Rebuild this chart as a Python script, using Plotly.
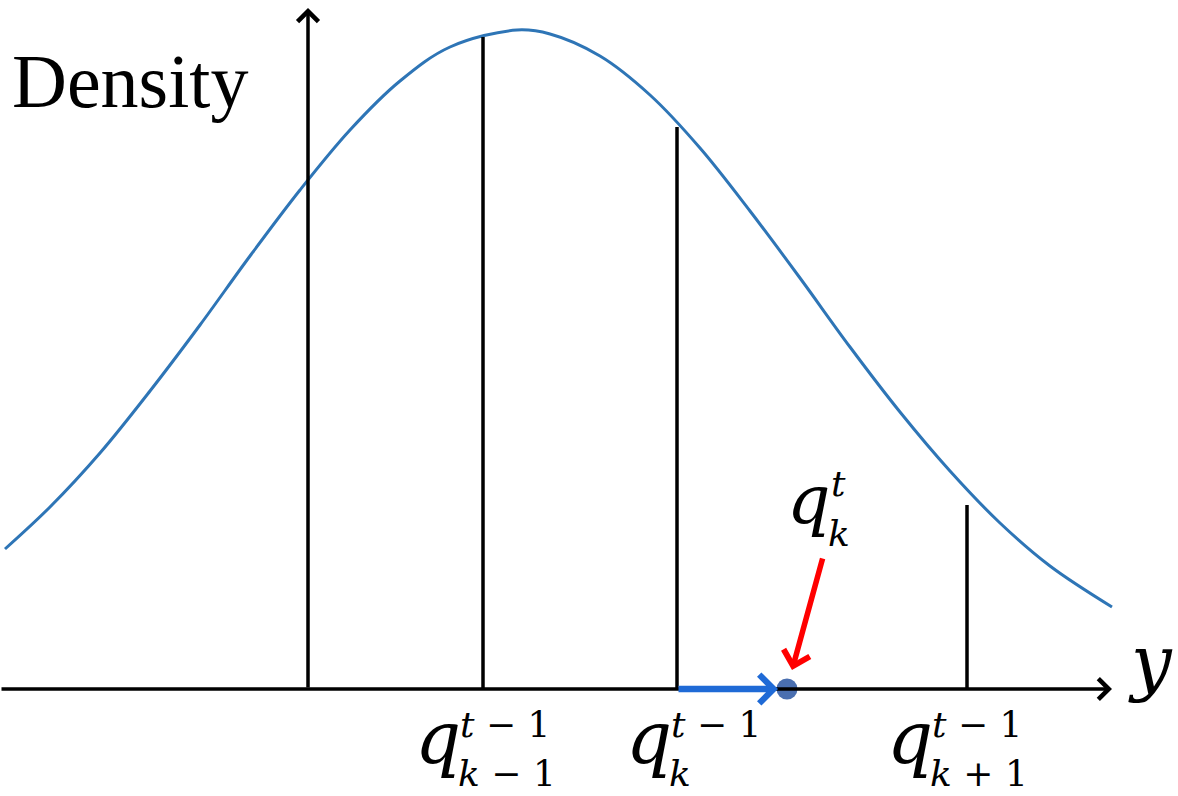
import plotly.graph_objects as go

# density curve: horizontal position, height above the axis
curve_x = [5, 50, 100, 150, 200, 250, 300, 350, 400, 450, 517, 550, 600,
           650, 700, 750, 800, 850, 900, 950, 1000, 1050, 1112]
curve_h = [140, 182, 236, 298, 364, 433, 499, 559, 608, 642, 659, 655, 633,
           594, 541, 478, 411, 342, 277, 218, 166, 123, 82]

# previous quantiles q_{k-1}, q_k, q_{k+1} and the heights of their markers
quant_x = [483, 677, 967]
quant_h = [652, 562, 184]
quant_sub = ["<i>k</i> − 1", "<i>k</i>", "<i>k</i> + 1"]

# updated quantile q_k^t
new_q = 787

# axes extent
axis_x0, axis_x1 = 0, 1112
dens_axis_x, dens_axis_top = 308, 681

MATH = "DejaVu Serif, Liberation Serif, serif"
TIMES = "Liberation Serif, Times New Roman, serif"
BLACK = "#000000"

fig = go.Figure()

fig.add_trace(go.Scatter(
    x=curve_x, y=curve_h, mode="lines", line_shape="spline",
    line=dict(color="#2E75B6", width=3), hoverinfo="skip",
))

# vertical quantile markers
vx, vy = [], []
for q, h in zip(quant_x, quant_h):
    vx += [q, q, None]
    vy += [0, h, None]
fig.add_trace(go.Scatter(
    x=vx, y=vy, mode="lines", line=dict(color=BLACK, width=3.5),
    hoverinfo="skip",
))

# the new quantile point
fig.add_trace(go.Scatter(
    x=[new_q], y=[0], mode="markers",
    marker=dict(size=21, color="#4A6FB0", line=dict(width=0)),
    hoverinfo="skip",
))


def arrow(x0, y0, x1, y1, color, width, size, head=4):
    fig.add_annotation(
        x=x1, y=y1, ax=x0, ay=y0, xref="x", yref="y", axref="x", ayref="y",
        text="", showarrow=True, arrowhead=head, arrowsize=size,
        arrowwidth=width, arrowcolor=color, standoff=0, startstandoff=0,
    )


# axes
arrow(axis_x0, 0, axis_x1, 0, BLACK, 3.5, 1.15)
arrow(dens_axis_x, 0, dens_axis_x, dens_axis_top, BLACK, 3.5, 1.15)
# move of q_k
arrow(quant_x[1], 0, new_q - 9, 0, "#1F6AD6", 6.5, 0.85)
# pointer to q_k^t
arrow(823, 132, 792, 19, "#FF0000", 5.5, 0.95)


def text(x, y, s, size, family=MATH, anchor="left"):
    fig.add_annotation(
        x=x, y=y, xref="x", yref="y", text=s, showarrow=False,
        xanchor=anchor, yanchor="middle", borderpad=0, borderwidth=0,
        font=dict(family=family, size=size, color=BLACK),
    )


# quantile labels under the axis: q, then stacked superscript / subscript
q_split = [461, 672, 933]
for sx, sub in zip(q_split, quant_sub):
    text(sx, -49, "<i>q</i>", 72, anchor="right")
    text(sx - 1, -35, "<i>t</i> − 1", 36)
    text(sx - 3, -84, sub, 36)

# q_k^t label
text(831, 190, "<i>q</i>", 68, anchor="right")
text(831, 206, "<i>t</i>", 36)
text(828, 156, "<i>k</i>", 36)

# axis titles
text(1128, 27, "<i>y</i>", 72)
text(12, 608, "Density", 76, family=TIMES)

fig.update_layout(
    width=1178, height=796,
    margin=dict(l=0, r=0, t=0, b=0),
    paper_bgcolor="white", plot_bgcolor="white",
    showlegend=False, hovermode=False,
    xaxis=dict(range=[0, 1178], visible=False, fixedrange=True),
    yaxis=dict(range=[-107, 689], visible=False, fixedrange=True),
)

fig.write_html(
    "out.html",
    config={"displayModeBar": False},
    post_script="document.body.style.margin='0';",
)
